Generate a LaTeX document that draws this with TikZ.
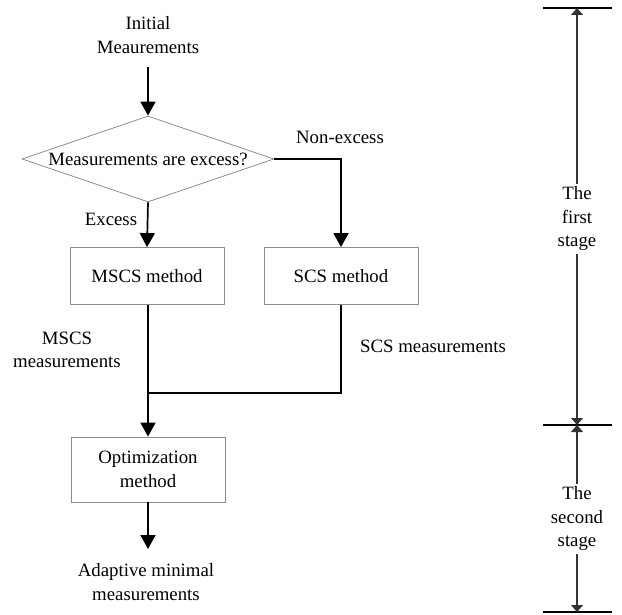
\documentclass[tikz,border=0pt]{standalone}
\usepackage{fontspec}
\setmainfont{Liberation Serif}
\usetikzlibrary{arrows.meta,shapes.geometric}
\begin{document}
\begin{tikzpicture}[x=1pt,y=-1pt,
  every node/.style={font=\fontsize{18.8}{23.5}\selectfont, align=center},
  box/.style={draw=black!45, line width=0.8pt, minimum width=154pt, minimum height=57pt, inner sep=0pt},
  decision/.style={draw=black!45, line width=0.8pt, shape=diamond, aspect=2.93, inner sep=0pt, minimum width=252pt, minimum height=86pt},
  conn/.style={line width=1.7pt, -{Triangle[width=15pt,length=14pt]}},
  plainline/.style={line width=1.7pt},
  bar/.style={line width=2.6pt},
  stageline/.style={line width=1.3pt, draw=black!80, -{Triangle[width=12pt,length=7pt]}},
  stagetext/.style={inner sep=3pt}
]
\useasboundingbox (0,0) rectangle (622,615);

% flowchart nodes
\node (init) at (148,35) {Initial\\Meaurements};
\coordinate (initend) at (148,67);
\node[decision] (dec) at (148,159) {Measurements are excess?};
\node[box] (mscs) at (147,276) {MSCS method};
\node[box] (scs) at (341,276) {SCS method};
\node[box, minimum height=65pt] (opt) at (148,469.5) {Optimization\\method};
\node (adapt) at (146,582) {Adaptive minimal\\measurements};
\coordinate (adtop) at (148,549);

% labels
\node (lnon) at (340,137) {Non-excess};
\node (lexc) at (111,219) {Excess};
\node (lmscs) at (67,350) {MSCS\\measurements};
\node (lscs) at (433,346) {SCS measurements};

% connectors
\draw[conn] (initend) -- (dec.north);
\draw[conn] (dec.south) -- (mscs.north);
\draw[conn] (dec.east) -| (scs.north);
\coordinate (join) at (148,393);
\draw[plainline] (scs.south) |- (join);
\draw[conn] (148,0 |- mscs.south) -- (opt.north);
\draw[conn] (opt.south) -- (adtop);

% stages
\coordinate (t1) at (577,8);
\coordinate (t2) at (577,425);
\coordinate (t3) at (577,612);
\draw[bar] (543,8) -- (612,8);
\draw[bar] (543,425) -- (612,425);
\draw[bar] (543,612) -- (612,612);
\node[stagetext] (first) at (577,219) {The\\first\\stage};
\node[stagetext] (second) at (577,519) {The\\second\\stage};
\draw[stageline] (first) -- (t1);
\draw[stageline] (first) -- (t2);
\draw[stageline] (second) -- (t2);
\draw[stageline] (second) -- (t3);
\end{tikzpicture}
\end{document}
